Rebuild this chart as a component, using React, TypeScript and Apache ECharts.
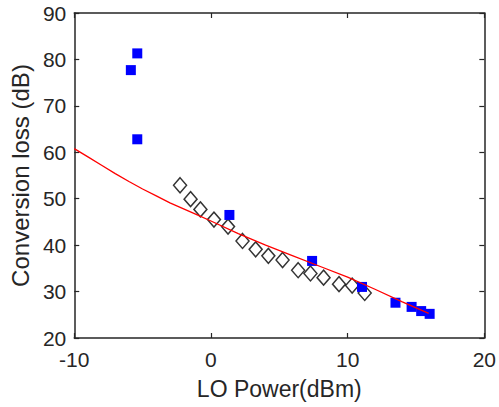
import React, { useEffect, useRef } from "react";
import * as echarts from "echarts";

const measuredX = [-2.26, -1.49, -0.77, 0.22, 1.25, 2.31, 3.27, 4.2, 5.24, 6.38, 7.28, 8.24, 9.37, 10.33, 11.25];
const measuredY = [52.9, 49.9, 47.7, 45.5, 44.0, 40.9, 39.1, 37.7, 36.8, 34.6, 33.9, 33.0, 31.6, 31.3, 29.7];

const simX = [-5.39, -5.86, -5.39, 1.35, 7.4, 11.05, 13.5, 14.68, 15.38, 16.0];
const simY = [81.3, 77.7, 62.8, 46.5, 36.6, 31.0, 27.6, 26.7, 25.8, 25.2];

const fitX = [-10, -9, -8, -7, -6, -5, -4, -3, -2, -1, 0, 2, 4, 6, 8, 10, 12, 14, 15.93];
const fitY = [60.8, 59.0, 57.2, 55.4, 53.7, 52.1, 50.6, 49.1, 47.8, 46.5, 45.2, 42.5, 40.0, 37.7, 35.4, 33.1, 30.5, 27.8, 25.3];

const xTicks = [-10, 0, 10, 20];
const yTicks = [20, 30, 40, 50, 60, 70, 80, 90];

const axisColor = "#262626";
const font = "Liberation Sans, Arial, sans-serif";

export default function App() {
  const ref = useRef<HTMLDivElement>(null);
  useEffect(() => {
    document.body.style.margin = "0";
    const chart = echarts.init(ref.current!, null, { renderer: "svg" });
    const xMin = xTicks[0];
    const xMax = xTicks[xTicks.length - 1];
    const yMin = yTicks[0];
    const yMax = yTicks[yTicks.length - 1];
    const axisLine = { show: true, onZero: false, lineStyle: { color: axisColor, width: 1.5 } };
    const axisTick = { show: true, inside: true, length: 5, lineStyle: { color: axisColor, width: 1.2 } };
    chart.setOption({
      animation: false,
      backgroundColor: "#ffffff",
      grid: { left: 70, right: 13, top: 13, bottom: 69 },
      xAxis: [
        {
          type: "value",
          min: xMin,
          max: xMax,
          interval: 10,
          position: "bottom",
          name: "LO Power(dBm)",
          nameLocation: "middle",
          nameGap: 39,
          nameTextStyle: { color: axisColor, fontSize: 23, fontFamily: font },
          axisLine,
          axisTick,
          axisLabel: { color: axisColor, fontSize: 21, fontFamily: font, margin: 11 },
          splitLine: { show: false },
        },
        {
          type: "value",
          min: xMin,
          max: xMax,
          interval: 10,
          position: "top",
          axisLine,
          axisTick,
          axisLabel: { show: false },
          splitLine: { show: false },
        },
      ],
      yAxis: [
        {
          type: "value",
          min: yMin,
          max: yMax,
          interval: 10,
          position: "left",
          name: "Conversion loss (dB)",
          nameLocation: "middle",
          nameGap: 42,
          nameRotate: 90,
          nameTextStyle: { color: axisColor, fontSize: 24, fontFamily: font },
          axisLine,
          axisTick,
          axisLabel: { color: axisColor, fontSize: 21, fontFamily: font, margin: 8 },
          splitLine: { show: false },
        },
        {
          type: "value",
          min: yMin,
          max: yMax,
          interval: 10,
          position: "right",
          axisLine,
          axisTick,
          axisLabel: { show: false },
          splitLine: { show: false },
        },
      ],
      series: [
        {
          type: "scatter",
          data: measuredX.map((x, i) => [x, measuredY[i]]),
          symbol: "diamond",
          symbolSize: [13, 15],
          itemStyle: { color: "#ffffff", borderColor: "#000000", borderWidth: 1.5 },
          z: 2,
        },
        {
          type: "scatter",
          data: simX.map((x, i) => [x, simY[i]]),
          symbol: "rect",
          symbolSize: 10,
          itemStyle: { color: "#0000ff", opacity: 1 },
          z: 3,
        },
        {
          type: "line",
          data: fitX.map((x, i) => [x, fitY[i]]),
          smooth: false,
          showSymbol: false,
          lineStyle: { color: "#ff0000", width: 1.3 },
          z: 4,
        },
      ],
    });
    return () => chart.dispose();
  }, []);
  return <div ref={ref} style={{ width: 499, height: 407 }} />;
}
